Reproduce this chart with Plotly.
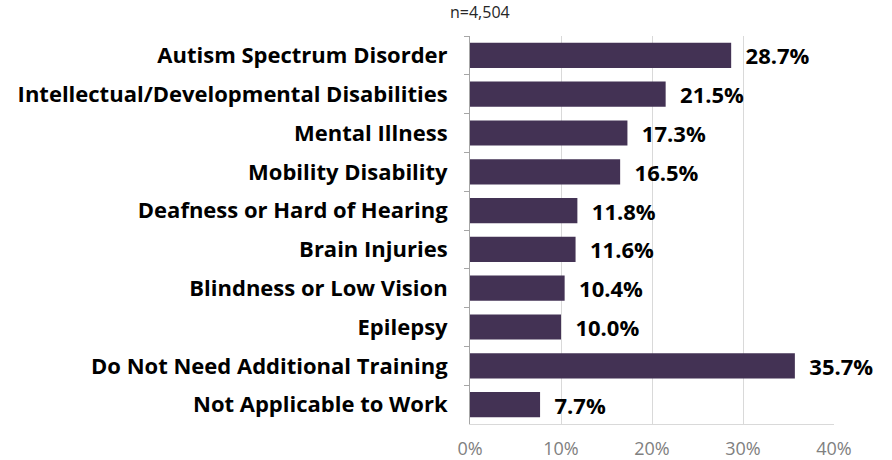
import plotly.graph_objects as go

# Categories top-to-bottom as shown in the chart
categories = [
    "Autism Spectrum Disorder",
    "Intellectual/Developmental Disabilities",
    "Mental Illness",
    "Mobility Disability",
    "Deafness or Hard of Hearing",
    "Brain Injuries",
    "Blindness or Low Vision",
    "Epilepsy",
    "Do Not Need Additional Training",
    "Not Applicable to Work",
]
values = [28.7, 21.5, 17.3, 16.5, 11.8, 11.6, 10.4, 10.0, 35.7, 7.7]
tick_vals = [0, 10, 20, 30, 40]
tick_text = ["0%", "10%", "20%", "30%", "40%"]

labels = ["  %.1f%%" % v for v in values]
FONT = "Open Sans"

fig = go.Figure()
fig.add_trace(go.Bar(
    x=values,
    y=categories,
    orientation="h",
    marker=dict(color="#433254", line=dict(width=0)),
    text=labels,
    textposition="outside",
    constraintext="none",
    cliponaxis=False,
    textfont=dict(family=FONT, size=22, color="black", weight="bold"),
    hoverinfo="x+y",
))

# sample size note above the plot
fig.add_annotation(
    text="n=4,504", xref="x", yref="paper", x=1.1, y=1.0, yshift=37,
    showarrow=False, font=dict(family=FONT, size=16, color="#262626"),
)

fig.update_layout(
    width=892, height=460,
    margin=dict(l=470, r=58, t=36, b=36, autoexpand=False),
    plot_bgcolor="white",
    paper_bgcolor="white",
    showlegend=False,
    bargap=0.35,
    xaxis=dict(
        range=[0, 40], tickvals=tick_vals, ticktext=tick_text,
        showgrid=True, gridcolor="#d9d9d9", gridwidth=1,
        zeroline=False, showline=True, linecolor="#d9d9d9",
        ticks="", ticklabelstandoff=8, automargin=False,
        tickfont=dict(family=FONT, size=18, color="#808080"),
    ),
    yaxis=dict(
        autorange="reversed", automargin=False,
        showline=True, linecolor="#a6a6a6", linewidth=1,
        ticks="outside", ticklen=5, tickcolor="#a6a6a6", tickson="boundaries",
        tickfont=dict(family=FONT, size=22, color="black", weight="bold"),
        ticklabelstandoff=17,
    ),
)

fig.write_html("out.html", config={"displayModeBar": False},
               post_script="document.body.style.margin='0';")
